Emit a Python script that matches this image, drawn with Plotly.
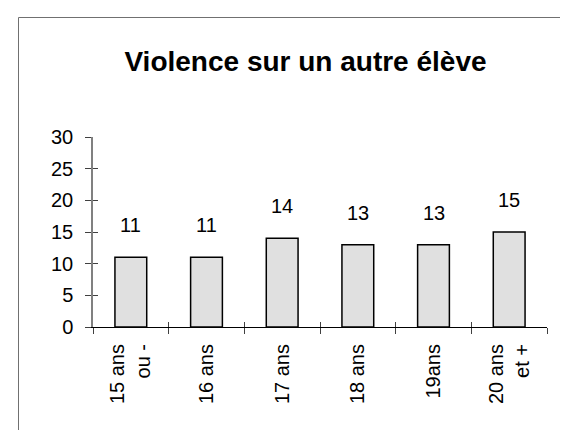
import plotly.graph_objects as go

categories = ["15 ans<br>ou -", "16 ans", "17 ans", "18 ans", "19ans", "20 ans<br>et +"]
values = [11, 11, 14, 13, 13, 15]
title = "Violence sur un autre élève"
y_ticks = [0, 5, 10, 15, 20, 25, 30]

W, H = 568, 430
L, R, T, B = 85, 29, 129, 111
pw, ph = W - L - R, H - T - B

FONT = "Liberation Sans, Arial, sans-serif"
FS = 20

fig = go.Figure()
fig.add_trace(go.Bar(
    x=categories, y=values,
    marker=dict(color="#e0e0e0", line=dict(color="black", width=1.5)),
    width=0.42, hoverinfo="skip",
))

for c, v in zip(categories, values):
    fig.add_annotation(x=c, y=v, text=str(v), showarrow=False, yshift=32,
                       font=dict(family=FONT, size=FS, color="black"))

def px_to_paper_x(px):
    return (px - L) / pw

def px_to_paper_y(py):
    return (H - B - py) / ph

fig.add_shape(type="rect", xref="paper", yref="paper",
              x0=px_to_paper_x(10.5), x1=px_to_paper_x(600),
              y0=px_to_paper_y(460), y1=px_to_paper_y(9.5),
              line=dict(color="#707070", width=1), fillcolor="rgba(0,0,0,0)", layer="below")

n = len(categories)
fig.update_layout(
    width=W, height=H,
    margin=dict(l=L, r=R, t=T, b=B, pad=0),
    paper_bgcolor="white", plot_bgcolor="white",
    showlegend=False,
    title=dict(text="<b>" + title + "</b>", x=297.5 / W, xanchor="center",
               y=1 - 53 / H, yanchor="middle",
               font=dict(family=FONT, size=28, color="black")),
    font=dict(family=FONT, size=FS, color="black"),
    xaxis=dict(
        type="category", range=[-0.5, n - 0.5],
        showline=True, linecolor="black", linewidth=1,
        ticks="outside", ticklen=6, tickcolor="#404040", tickwidth=1,
        tickson="boundaries", tickangle=-90, showgrid=False, zeroline=False,
        ticklabelstandoff=8,
        tickfont=dict(family=FONT, size=FS, color="black"),
    ),
    xaxis2=dict(
        overlaying="x", range=[-0.5, n - 0.5], side="bottom",
        tickvals=[i - 0.5 for i in range(n + 1)], showticklabels=False,
        ticks="inside", ticklen=5, tickcolor="#404040", tickwidth=1,
        showgrid=False, zeroline=False, showline=False,
    ),
    yaxis=dict(
        range=[0, 30], tickvals=y_ticks,
        showline=True, linecolor="#808080", linewidth=1.5,
        ticks="outside", ticklen=6, tickcolor="#404040", tickwidth=1,
        ticklabelstandoff=8,
        showgrid=False, zeroline=False,
        tickfont=dict(family=FONT, size=FS, color="black"),
    ),
    yaxis2=dict(
        overlaying="y", range=[0, 30], side="left",
        tickvals=y_ticks, showticklabels=False,
        ticks="inside", ticklen=5, tickcolor="#404040", tickwidth=1,
        showgrid=False, zeroline=False, showline=False,
    ),
)
fig.add_trace(go.Scatter(x=[0], y=[0], xaxis="x2", yaxis="y2", mode="markers",
                         marker=dict(opacity=0), hoverinfo="skip", showlegend=False))
fig.write_html("out.html")
